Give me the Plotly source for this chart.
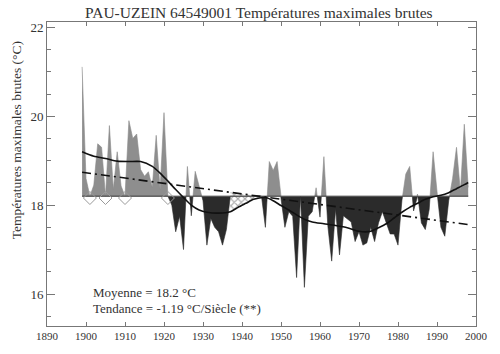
import numpy as np
import plotly.graph_objects as go

# ---------------- data ----------------
years = list(range(1899, 1999))
temps = [
    21.11, 18.60, None, 18.45, 19.38, 19.30, None, 19.79, 18.35, 19.20,   # 1899-1908
    18.43, None, 19.90, 19.50, 19.60, 18.80, 18.65, 18.75, 18.40, 19.57,  # 1909-1918
    18.35, 20.08, None, 18.00, 17.40, 17.75, 17.00, 18.87, 17.76, 18.76,  # 1919-1928
    18.43, 18.10, 17.10, 17.70, 17.50, 17.40, 17.10, 17.45, None, None,   # 1929-1938
    None, None, None, None, None, None, None, 17.50, 18.98, 18.78,        # 1939-1948
    18.98, 18.15, 17.50, 17.85, 17.75, 16.37, 18.20, 16.15, 17.75, 17.85, # 1949-1958
    18.39, 17.73, 19.09, 17.54, 16.74, 17.91, 16.88, 17.76, 17.69, 17.62, # 1959-1968
    17.18, 17.40, 17.10, 17.15, 17.50, 17.18, 17.60, 17.85, 17.60, 17.35, # 1969-1978
    17.35, 17.10, 18.10, 18.70, 18.87, 17.87, 18.25, 17.60, 17.45, 17.90, # 1979-1988
    19.20, 18.30, 17.50, 17.30, 18.10, 18.60, 19.30, 18.30, 19.82, 18.40, # 1989-1998
]
mean_temp = 18.2
trend_per_century = -1.19
trend_at_1899 = 18.74

smooth_years = [1899, 1902, 1905, 1908, 1911, 1914, 1917, 1919, 1921, 1923, 1925,
                1927, 1929, 1931, 1934, 1937, 1939, 1941, 1943, 1946, 1948, 1950,
                1952, 1954, 1956, 1958, 1961, 1964, 1967, 1970, 1973, 1975, 1977,
                1979, 1981, 1983, 1985, 1987, 1989, 1991, 1993, 1995, 1997, 1998]
smooth_vals = [19.20, 19.10, 19.05, 18.99, 18.98, 18.98, 18.87, 18.72, 18.54, 18.35, 18.17,
               18.00, 17.89, 17.84, 17.82, 17.85, 17.95, 18.04, 18.13, 18.17, 18.10, 17.99,
               17.89, 17.78, 17.68, 17.62, 17.58, 17.54, 17.49, 17.41, 17.41, 17.49, 17.58,
               17.71, 17.84, 17.95, 18.04, 18.13, 18.19, 18.22, 18.28, 18.37, 18.46, 18.51]

marked_years = [1901, 1905, 1910, 1921]
gap_years = [1937, 1946]

title_text = "PAU-UZEIN 64549001 Températures maximales brutes"
ytitle_text = "Températures maximales brutes (°C)"
note1 = "Moyenne = 18.2 °C"
note2 = "Tendance = -1.19 °C/Siècle (**)"

# ---------------- derived geometry ----------------
yrs = np.array(years, dtype=float)
anom = np.array([0.0 if v is None else v - mean_temp for v in temps])

xs, an = [], []
for i in range(len(yrs)):
    if i > 0:
        a0, a1 = anom[i - 1], anom[i]
        if a0 * a1 < 0:
            t = a0 / (a0 - a1)
            xs.append(yrs[i - 1] + t * (yrs[i] - yrs[i - 1]))
            an.append(0.0)
    xs.append(yrs[i])
    an.append(anom[i])
xs = np.array(xs)
an = np.array(an)
pos = np.maximum(an, 0) + mean_temp
neg = np.minimum(an, 0) + mean_temp
base = np.full_like(xs, mean_temp)

def trend(x):
    return trend_at_1899 + trend_per_century / 100.0 * (np.asarray(x) - 1899)

fig = go.Figure()
# positive anomalies
fig.add_trace(go.Scatter(x=xs, y=base, mode="lines", line=dict(width=0), hoverinfo="skip", showlegend=False))
fig.add_trace(go.Scatter(x=xs, y=pos, mode="lines", line=dict(width=0.6, color="#8a8a8a"),
                         fill="tonexty", fillcolor="#8e8e8e", showlegend=False))
# negative anomalies
fig.add_trace(go.Scatter(x=xs, y=base, mode="lines", line=dict(width=0), hoverinfo="skip", showlegend=False))
fig.add_trace(go.Scatter(x=xs, y=neg, mode="lines", line=dict(width=0.6, color="#2a2a2a"),
                         fill="tonexty", fillcolor="#2b2b2b", showlegend=False))

# hatched gap between trend and smooth curve
gx = np.linspace(gap_years[0], gap_years[1], 40)
fig.add_trace(go.Scatter(x=gx, y=trend(gx), mode="lines", line=dict(width=0), showlegend=False))
fig.add_trace(go.Scatter(x=gx, y=np.interp(gx, smooth_years, smooth_vals), mode="lines",
                         line=dict(width=0), fill="tonexty", fillcolor="rgba(0,0,0,0)",
                         fillpattern=dict(shape="x", fgcolor="#555555", bgcolor="rgba(255,255,255,0)",
                                          size=5, solidity=0.4),
                         showlegend=False))

# baseline
fig.add_trace(go.Scatter(x=[years[0], years[-1]], y=[mean_temp, mean_temp], mode="lines",
                         line=dict(width=1, color="#555555"), showlegend=False))
# smooth curve
fig.add_trace(go.Scatter(x=smooth_years, y=smooth_vals, mode="lines", line_shape="spline",
                         line=dict(width=1.6, color="#111111", smoothing=0.7), showlegend=False))
# linear trend
tx = np.array([years[0], years[-1]], dtype=float)
fig.add_trace(go.Scatter(x=tx, y=trend(tx), mode="lines",
                         line=dict(width=1.6, color="#111111", dash="9px,4px,2px,4px"), showlegend=False))
# markers
fig.add_trace(go.Scatter(x=marked_years, y=[mean_temp - 0.04] * len(marked_years), mode="markers",
                         marker=dict(symbol="diamond-open", size=10, color="#9a9a9a", line=dict(width=1)),
                         showlegend=False))

font_family = "Liberation Serif, Times New Roman, serif"
axis_col = "#777777"
fig.update_layout(
    width=500, height=354,
    margin=dict(l=47, r=15, t=22, b=22),
    paper_bgcolor="white", plot_bgcolor="white",
    font=dict(family=font_family, color="#333333"),
    xaxis=dict(range=[1890, 2000], tick0=1890, dtick=10, ticks="inside", ticklen=4,
               tickcolor=axis_col, showline=True, linecolor=axis_col, linewidth=1,
               mirror="ticks", showgrid=False, zeroline=False,
               tickfont=dict(size=11, family=font_family, color="#333333")),
    yaxis=dict(range=[15.28, 22.12], tickvals=[16, 18, 20, 22], ticks="inside", ticklen=8,
               tickcolor=axis_col, showline=True, linecolor=axis_col, linewidth=1,
               mirror="ticks", showgrid=False, zeroline=False,
               minor=dict(dtick=0.5, tick0=0, ticks="inside", ticklen=4, tickcolor=axis_col),
               tickfont=dict(size=13, family=font_family, color="#333333")),
    annotations=[
        dict(text=title_text, xref="paper", yref="paper", x=0.495, y=1.031, xanchor="center",
             yanchor="middle", showarrow=False, font=dict(size=15.5, family=font_family, color="#333333")),
        dict(text=ytitle_text, xref="paper", yref="paper", x=-0.069, y=0.612, xanchor="center",
             yanchor="middle", textangle=-90, showarrow=False,
             font=dict(size=13.5, family=font_family, color="#333333")),
        dict(text=note1, xref="paper", yref="paper", x=0.102, y=0.110, xanchor="left",
             yanchor="middle", showarrow=False, font=dict(size=13, family=font_family, color="#333333")),
        dict(text=note2, xref="paper", yref="paper", x=0.102, y=0.058, xanchor="left",
             yanchor="middle", showarrow=False, font=dict(size=13, family=font_family, color="#333333")),
    ],
)

fig.write_html("out.html")
